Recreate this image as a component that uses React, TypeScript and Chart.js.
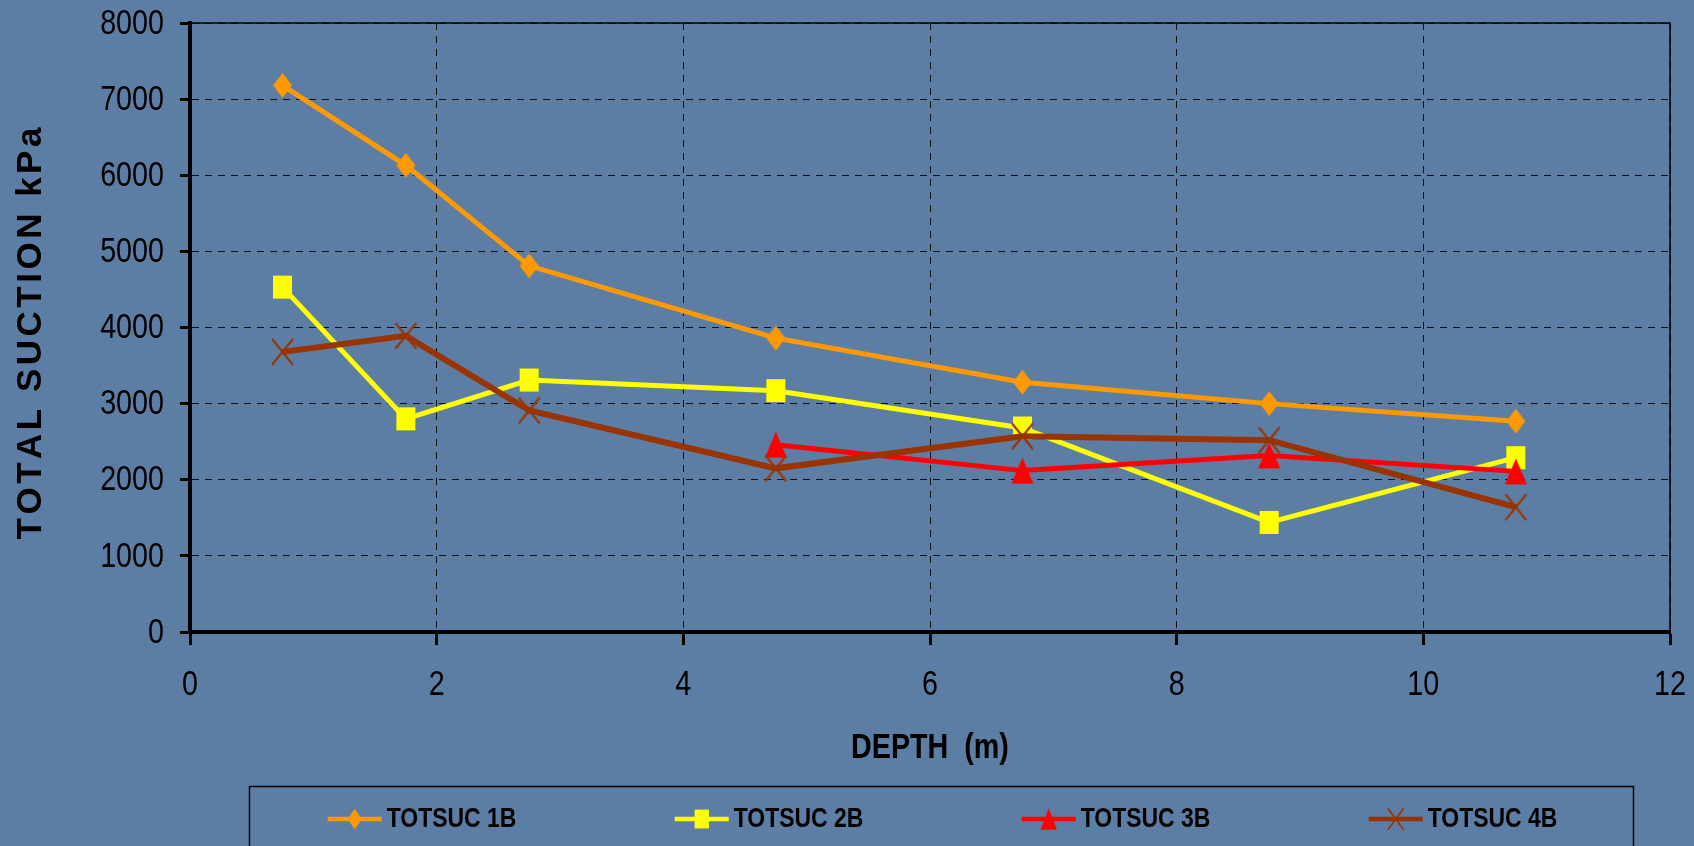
import React, { useEffect, useRef } from 'react';
import { Chart, registerables } from 'chart.js';

Chart.register(...registerables);

// ---- data ----
const depths = [0.75, 1.75, 2.75, 4.75, 6.75, 8.75, 10.75];
const totsuc1B = [7180, 6130, 4810, 3860, 3280, 3000, 2770];
const totsuc2B = [4530, 2800, 3310, 3170, 2680, 1440, 2290];
const totsuc3B = [null, null, null, 2460, 2120, 2320, 2110];
const totsuc4B = [3680, 3890, 2910, 2150, 2570, 2520, 1640];
const seriesLabels = ['TOTSUC 1B', 'TOTSUC 2B', 'TOTSUC 3B', 'TOTSUC 4B'];
const seriesColors = ['#FF9900', '#FFFF00', '#FF0000', '#993300'];
const seriesMarkers = ['diamond', 'square', 'triangle', 'cross'];
const xTitle = 'DEPTH  (m)';
const yTitle = 'TOTAL SUCTION kPa';
const xMin = 0, xMax = 12, xStep = 2;
const yMin = 0, yMax = 8000, yStep = 1000;

const W = 1694, H = 846;
const BG = 'rgb(93,126,164)';
const FONT = "'Liberation Sans', Arial, sans-serif";
const SX = 0.82; // horizontal condensing of the narrow face

function makeMarker(kind: string, color: string, w: number, h: number): HTMLCanvasElement {
  const c = document.createElement('canvas');
  c.width = Math.ceil(w + 4);
  c.height = Math.ceil(h + 4);
  const ctx = c.getContext('2d')!;
  const cx = c.width / 2, cy = c.height / 2;
  ctx.fillStyle = color;
  ctx.strokeStyle = color;
  ctx.beginPath();
  if (kind === 'diamond') {
    ctx.moveTo(cx, cy - h / 2);
    ctx.lineTo(cx + w / 2, cy);
    ctx.lineTo(cx, cy + h / 2);
    ctx.lineTo(cx - w / 2, cy);
    ctx.closePath();
    ctx.fill();
  } else if (kind === 'square') {
    ctx.rect(cx - w / 2, cy - h / 2, w, h);
    ctx.fill();
  } else if (kind === 'triangle') {
    ctx.moveTo(cx, cy - h / 2);
    ctx.lineTo(cx + w / 2, cy + h / 2);
    ctx.lineTo(cx - w / 2, cy + h / 2);
    ctx.closePath();
    ctx.fill();
  } else {
    ctx.lineWidth = 2;
    ctx.moveTo(cx - w / 2, cy - h / 2);
    ctx.lineTo(cx + w / 2, cy + h / 2);
    ctx.moveTo(cx + w / 2, cy - h / 2);
    ctx.lineTo(cx - w / 2, cy + h / 2);
    ctx.stroke();
  }
  return c;
}

const markerSizes: Record<string, [number, number]> = {
  diamond: [19, 25],
  square: [19, 23],
  triangle: [22, 26],
  cross: [21, 26],
};

function drawText(ctx: CanvasRenderingContext2D, text: string, x: number, y: number, font: string, align: CanvasTextAlign, baseline: CanvasTextBaseline, sx = SX) {
  ctx.save();
  ctx.translate(x, y);
  ctx.scale(sx, 1);
  ctx.font = font;
  ctx.fillStyle = '#000';
  ctx.textAlign = align;
  ctx.textBaseline = baseline;
  ctx.fillText(text, 0, 0);
  ctx.restore();
}

const backgroundPlugin = {
  id: 'bgFill',
  beforeDraw(chart: any) {
    const { ctx, width, height } = chart;
    ctx.save();
    ctx.fillStyle = BG;
    ctx.fillRect(0, 0, width, height);
    ctx.restore();
  },
};

const decorPlugin = {
  id: 'decor',
  afterDraw(chart: any) {
    const { ctx, chartArea } = chart;
    const { left, right, top, bottom } = chartArea;
    const xs = chart.scales.x;
    const ys = chart.scales.y;
    ctx.save();
    // plot frame: top and right
    ctx.strokeStyle = '#000';
    ctx.lineWidth = 1.5;
    ctx.beginPath();
    ctx.moveTo(left, top);
    ctx.lineTo(right, top);
    ctx.lineTo(right, bottom);
    ctx.stroke();

    // tick labels from the scales
    ys.ticks.forEach((t: any) => {
      drawText(ctx, String(t.value), left - 26, ys.getPixelForValue(t.value) + 1, `35px ${FONT}`, 'right', 'middle');
    });
    xs.ticks.forEach((t: any) => {
      drawText(ctx, String(t.value), xs.getPixelForValue(t.value), bottom + 53, `35px ${FONT}`, 'center', 'middle');
    });

    // x title
    drawText(ctx, xTitle, (left + right) / 2, 748, `bold 35px ${FONT}`, 'center', 'middle');

    // y title, rotated, letter-spaced
    ctx.save();
    ctx.translate(31, (top + bottom) / 2 + 6);
    ctx.rotate(-Math.PI / 2);
    ctx.font = `bold 35px ${FONT}`;
    ctx.fillStyle = '#000';
    ctx.textAlign = 'left';
    ctx.textBaseline = 'middle';
    const spacing = 3.5;
    const chars = yTitle.split('');
    let total = 0;
    chars.forEach((c, i) => { total += ctx.measureText(c).width + (i < chars.length - 1 ? spacing : 0); });
    let cx = -total / 2;
    chars.forEach((c) => { ctx.fillText(c, cx, 0); cx += ctx.measureText(c).width + spacing; });
    ctx.restore();

    // legend box
    ctx.strokeStyle = '#000';
    ctx.lineWidth = 1.5;
    ctx.strokeRect(249.5, 786.5, 1384, 80);
    const ly = 819;
    chart.data.datasets.forEach((ds: any, i: number) => {
      const tx = 386.7 + 347 * i;
      ctx.strokeStyle = ds.borderColor;
      ctx.lineWidth = 4.5;
      ctx.beginPath();
      ctx.moveTo(tx - 59, ly);
      ctx.lineTo(tx - 5, ly);
      ctx.stroke();
      const img = ds.pointStyle as HTMLCanvasElement;
      const mw = img.width * 0.75, mh = img.height * 0.82;
      ctx.drawImage(img, tx - 32 - mw / 2, ly - mh / 2, mw, mh);
      drawText(ctx, ds.label, tx, 827, `bold 28px ${FONT}`, 'left', 'alphabetic');
    });
    ctx.restore();
  },
};

const seriesValues = [totsuc1B, totsuc2B, totsuc3B, totsuc4B];
const lineWidths = [5, 5, 5, 6];

export default function App() {
  const ref = useRef<HTMLCanvasElement | null>(null);
  useEffect(() => {
    document.body.style.margin = '0';
    const canvas = ref.current!;
    const datasets = seriesLabels.map((label, i) => {
      const [mw, mh] = markerSizes[seriesMarkers[i]];
      const marker = makeMarker(seriesMarkers[i], seriesColors[i], mw, mh);
      return {
        label,
        data: depths.map((x, j) => ({ x, y: seriesValues[i][j] })),
        borderColor: seriesColors[i],
        backgroundColor: seriesColors[i],
        pointStyle: marker,
        pointRadius: 12,
        borderWidth: lineWidths[i],
        tension: 0,
        spanGaps: false,
        order: 4 - i,
      };
    });
    const tickOpts = { color: 'rgba(0,0,0,0)', font: { size: 2 }, padding: 0, maxRotation: 0 };
    const chart = new Chart(canvas, {
      type: 'line',
      data: { datasets },
      options: {
        animation: false,
        responsive: false,
        devicePixelRatio: 1,
        layout: { padding: { left: 0, top: 23, right: 24, bottom: 0 } },
        plugins: { legend: { display: false }, tooltip: { enabled: false } },
        scales: {
          x: {
            type: 'linear',
            min: xMin,
            max: xMax,
            ticks: { ...tickOpts, stepSize: xStep },
            grid: { color: '#111', lineWidth: 1, tickLength: 13, tickWidth: 3, tickColor: '#000', tickBorderDash: [] },
            border: { color: '#000', width: 4, dash: [7, 6] },
            afterFit: (s: any) => { s.height = 214; },
          },
          y: {
            type: 'linear',
            min: yMin,
            max: yMax,
            ticks: { ...tickOpts, stepSize: yStep },
            grid: { color: '#111', lineWidth: 1, tickLength: 10, tickWidth: 3, tickColor: '#000', tickBorderDash: [] },
            border: { color: '#000', width: 4, dash: [7, 6] },
            afterFit: (s: any) => { s.width = 190; },
          },
        },
      } as any,
      plugins: [backgroundPlugin, decorPlugin],
    });
    return () => chart.destroy();
  }, []);
  return (
    <div style={{ width: W, height: H }}>
      <canvas ref={ref} width={W} height={H} style={{ display: 'block', width: W, height: H }} />
    </div>
  );
}
